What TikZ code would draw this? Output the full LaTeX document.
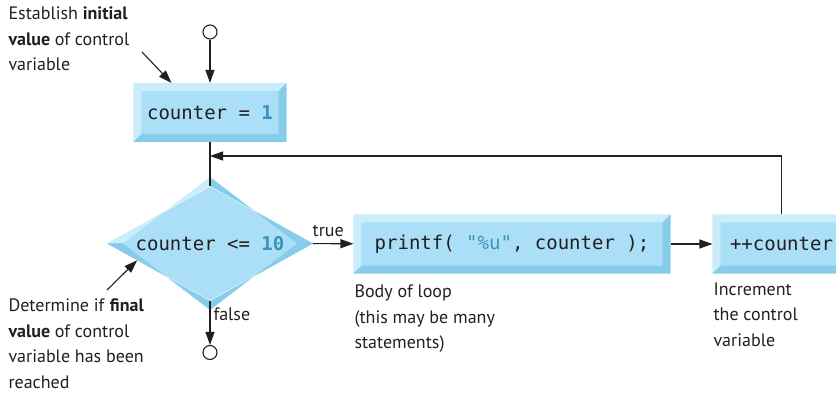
\documentclass[tikz,border=0pt]{standalone}
\usepackage{fontspec}
\setmainfont{PT Sans}
\newfontfamily\codefont{DejaVu Sans Mono}
\usetikzlibrary{shapes.geometric,arrows.meta}
\definecolor{boxfill}{RGB}{170,223,247}
\definecolor{boxlight}{RGB}{203,237,251}
\definecolor{boxdark}{RGB}{134,205,235}
\definecolor{codenum}{RGB}{60,146,186}
\definecolor{ink}{RGB}{35,31,32}
\newcommand{\bevelrect}[1]{%
	\fill[boxlight] (#1.south west) -- (#1.north west) -- (#1.north east) -- ([shift={(-8,8)}]#1.north east) -- ([shift={(8,8)}]#1.north west) -- ([shift={(8,-8)}]#1.south west) -- cycle;
	\fill[boxdark] (#1.north east) -- (#1.south east) -- (#1.south west) -- ([shift={(8,-8)}]#1.south west) -- ([shift={(-8,-8)}]#1.south east) -- ([shift={(-8,8)}]#1.north east) -- cycle;}
\newcommand{\beveldiamond}[1]{%
	\fill[boxlight] (#1.west) -- (#1.north) -- ([yshift=9]#1.north) -- ([xshift=16]#1.west) -- cycle;
	\fill[boxdark] (#1.north) -- (#1.east) -- (#1.south) -- (#1.west) -- ([xshift=16]#1.west) -- ([yshift=-9]#1.south) -- ([xshift=-16]#1.east) -- ([yshift=9]#1.north) -- cycle;}
\begin{document}
\begin{tikzpicture}[x=1pt,y=-1pt,line width=1.1pt,color=ink,
		arr/.style={-{Triangle[length=13pt,width=9pt]}},
		codebox/.style={rectangle,fill=boxfill,minimum height=58pt,inner sep=0pt,font=\codefont\fontsize{19pt}{22pt}\selectfont},
		test/.style={diamond,aspect=3,fill=boxfill,minimum width=205pt,minimum height=114pt,inner sep=0pt,font=\codefont\fontsize{19pt}{22pt}\selectfont},
		dot/.style={circle,draw,fill=white,minimum size=14pt,inner sep=0pt},
		note/.style={align=left,anchor=north west,inner sep=0pt,font=\fontsize{18pt}{25.8pt}\selectfont},
		lbl/.style={inner sep=3pt,font=\fontsize{18pt}{22pt}\selectfont}]
		\useasboundingbox (0,0) rectangle (836,398);
		\node[dot] (start) at (210,32) {};
		\node[codebox,minimum width=152pt] (init) at (210,112.5) {counter = \textcolor{codenum}{\bfseries 1}};
		\bevelrect{init}
		\node[test] (cond) at (210,243.5) {counter <= \textcolor{codenum}{\bfseries 10}};
		\beveldiamond{cond}
		\node[codebox,minimum width=316pt] (body) at (512,244) {printf( \textcolor{codenum}{"\%u"}, counter );};
		\bevelrect{body}
		\node[codebox,minimum width=137pt] (incr) at (781.5,244) {++counter};
		\bevelrect{incr}
		\node[dot] (stop) at (210,352.5) {};
		\coordinate (join) at (210,156);
		\draw[arr] (start) -- (init);
		\draw (init) -- (cond);
		\draw[arr] (cond) -- node[lbl,above,pos=0.38,yshift=3pt] {true} (body);
		\draw[arr] (body) -- (incr);
		\draw[arr] (incr.north) |- (join);
		\draw[arr] (cond) -- node[lbl,right,pos=0.3] {false} (stop);
		\node[note] (initnote) at (8,6) {Establish \textbf{initial}\\\textbf{value} of control\\variable};
		\node[note] (condnote) at (8,298) {Determine if \textbf{final}\\\textbf{value} of control\\variable has been\\reached};
		\node[note] (bodynote) at (354,284) {Body of loop\\(this may be many\\statements)};
		\node[note] (incrnote) at (713,282) {Increment\\the control\\variable};
		\coordinate (initfoot) at (142,52);
		\coordinate (condfoot) at (107,290);
		\draw[arr] (initfoot) -- ([xshift=38]init.north west);
		\draw[arr] (condfoot) -- (cond.193);
	\end{tikzpicture}
\end{document}
